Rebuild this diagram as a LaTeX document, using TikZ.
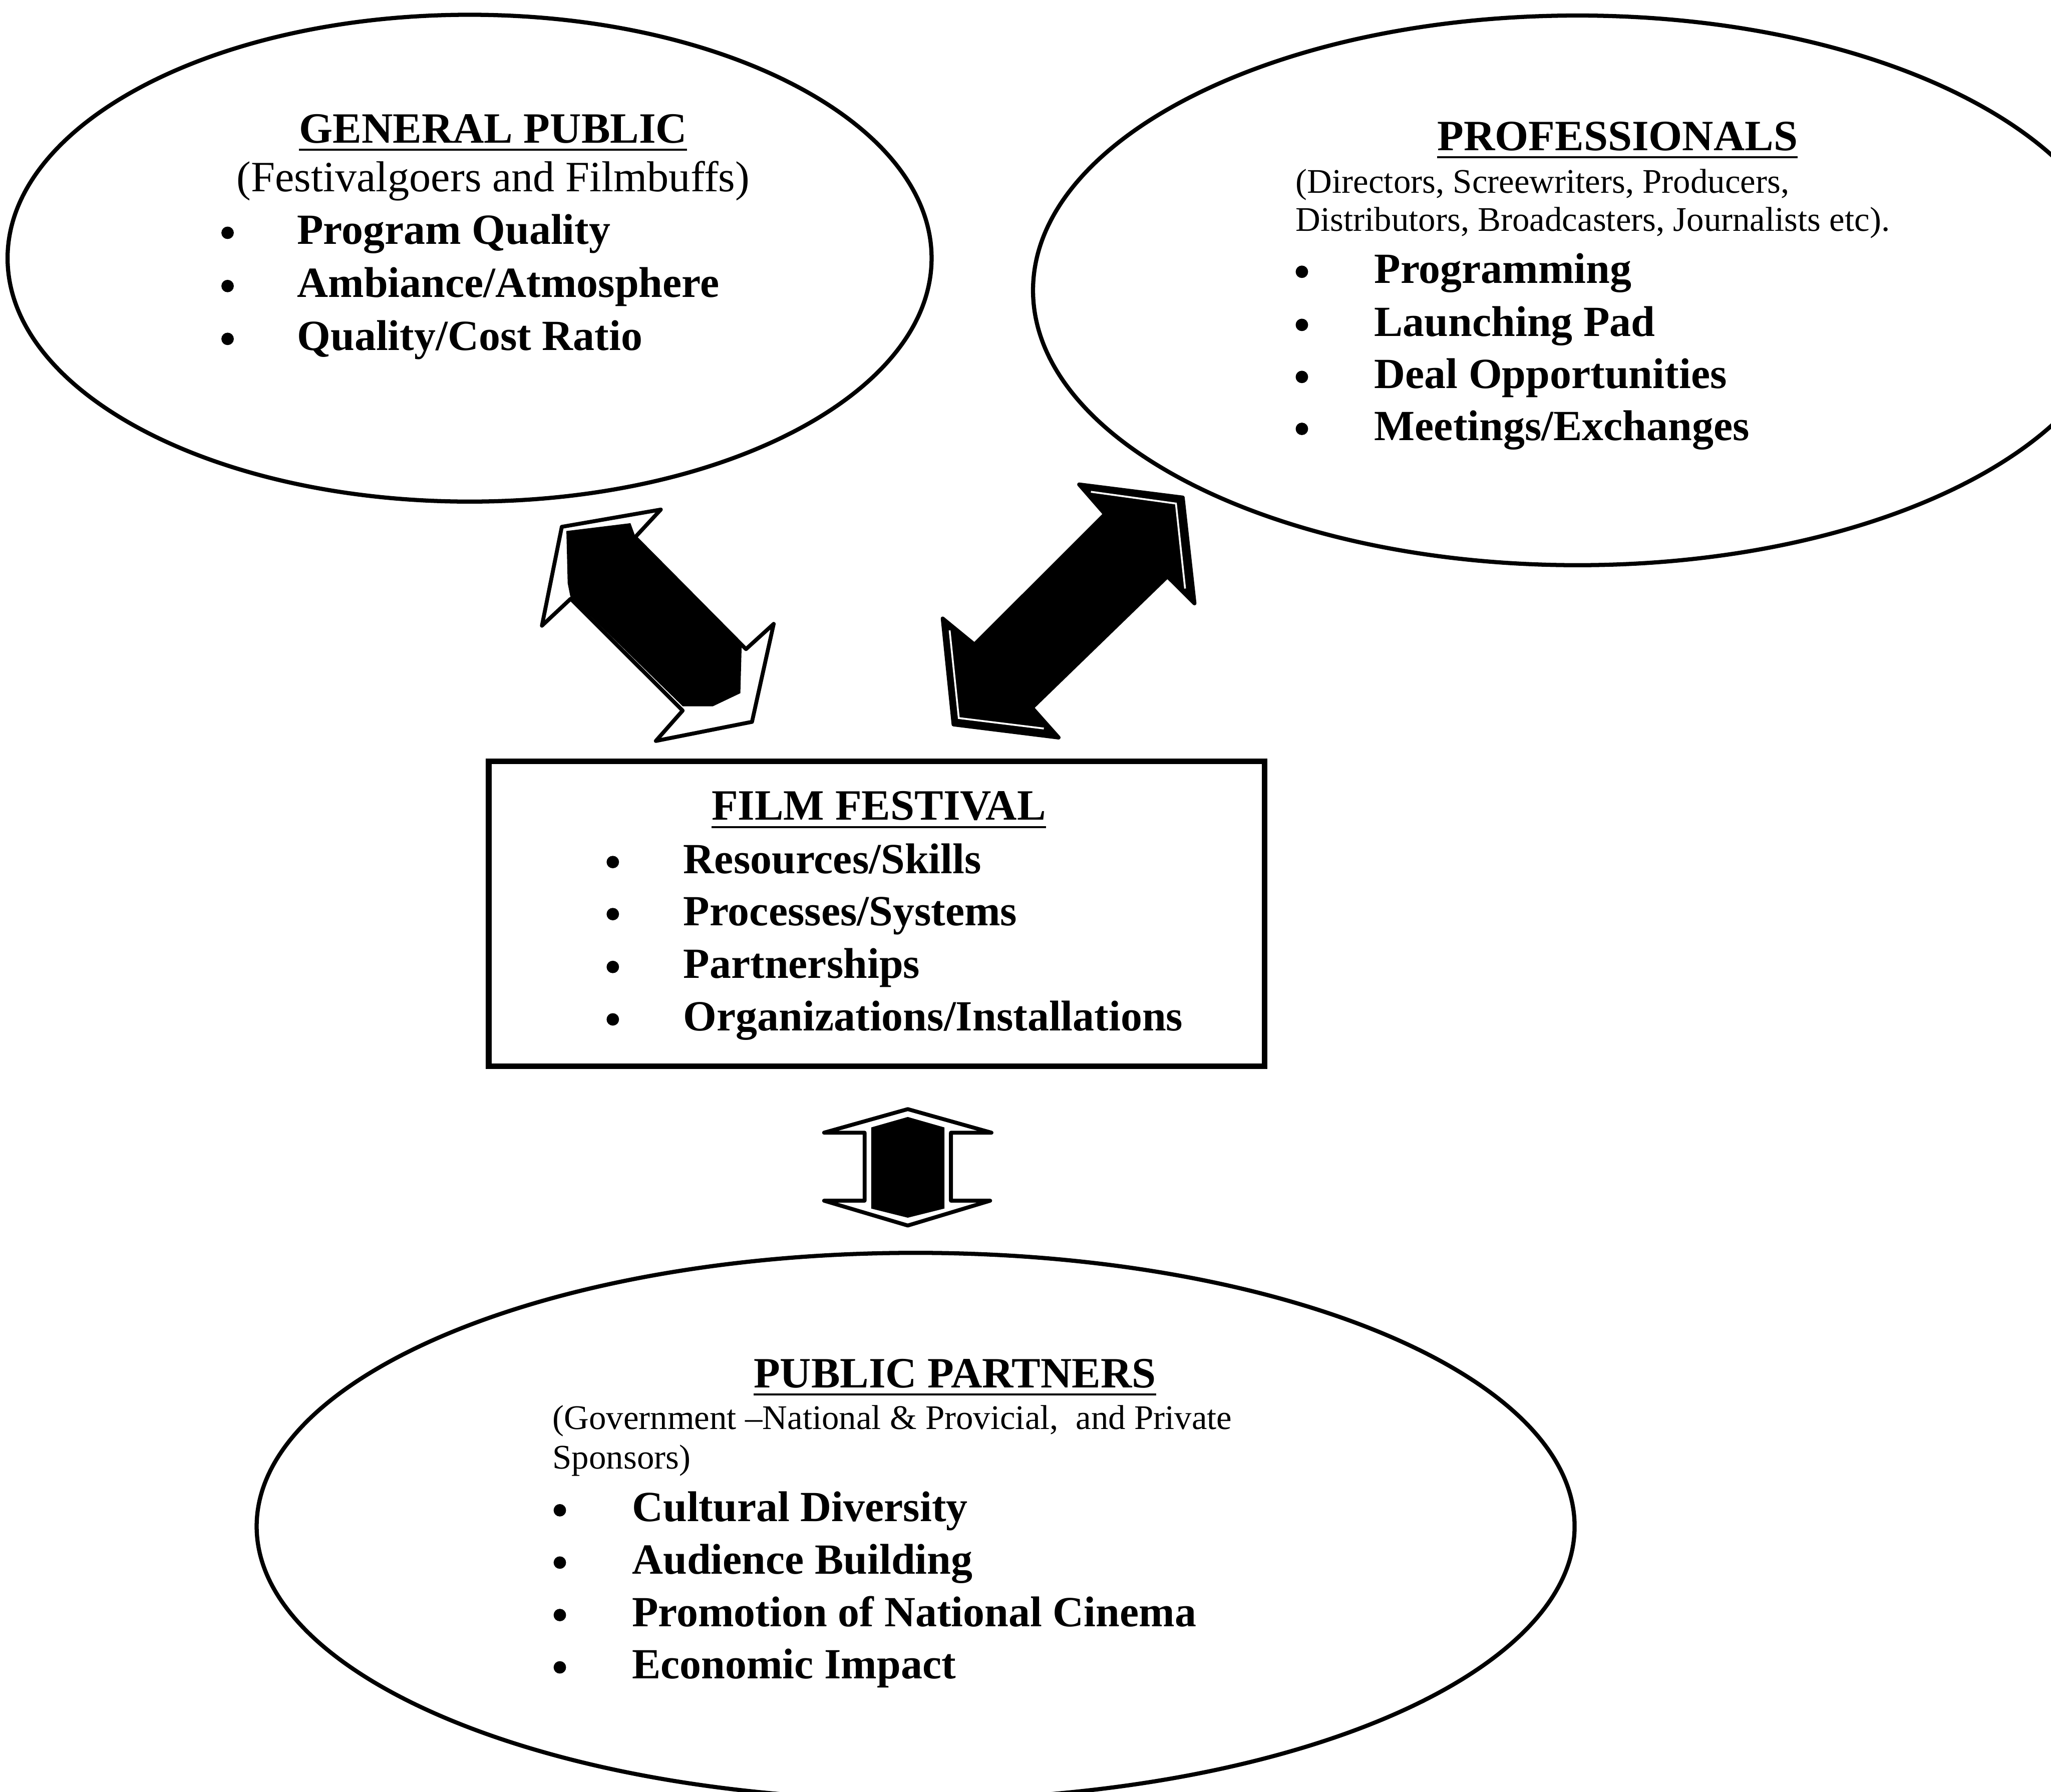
\documentclass[tikz,border=0pt]{standalone}
\usepackage{fontspec}
\setmainfont{Liberation Serif}
\usetikzlibrary{shapes.geometric}
\begin{document}
\begin{tikzpicture}[x=0.01cm, y=-0.01cm,
    bubble/.style={ellipse, draw, line width=0.9pt, inner sep=0pt},
    head/.style={anchor=base, inner sep=0pt, font=\fontsize{9.4}{11}\selectfont\bfseries},
    note/.style={anchor=base, inner sep=0pt, font=\fontsize{9.4}{11}\selectfont},
    sub/.style={anchor=base west, inner sep=0pt, font=\fontsize{7.5}{9}\selectfont},
    item/.style={anchor=base west, inner sep=0pt, font=\fontsize{9.35}{11}\selectfont\bfseries},
    dot/.style={circle, fill, inner sep=0pt, minimum size=0.095cm},
    arrowline/.style={draw=black, line width=0.85pt, line join=round}]
  \useasboundingbox (0,0) rectangle (1568,1370);
  \clip (0,0) rectangle (1568,1370);

  % General public
  \node[bubble, minimum width=7.06cm, minimum height=3.72cm] (gp) at (359,197.4) {};
  \node[head] (gphead) at (377,109.3) {\underline{GENERAL PUBLIC}};
  \node[note] (gpnote) at (377,146.4) {(Festivalgoers and Filmbuffs)};
  \node[dot] (gpd1) at (174,178) {};
  \node[item] (gpi1) at (226.5,186.6) {Program Quality};
  \node[dot] (gpd2) at (174,218.7) {};
  \node[item] (gpi2) at (226.5,227.3) {Ambiance/Atmosphere};
  \node[dot] (gpd3) at (174,259.1) {};
  \node[item] (gpi3) at (226.5,267.7) {Quality/Cost Ratio};

  % Professionals
  \node[bubble, minimum width=8.32cm, minimum height=4.20cm] (pro) at (1206,222) {};
  \node[head] (prohead) at (1236.6,115) {\underline{PROFESSIONALS}};
  \node[sub] (pronote1) at (990,147.6) {(Directors, Screewriters, Producers,};
  \node[sub] (pronote2) at (990,176.7) {Distributors, Broadcasters, Journalists etc).};
  \node[dot] (prod1) at (995.3,207.8) {};
  \node[item] (proi1) at (1050,216.4) {Programming};
  \node[dot] (prod2) at (995.3,248.4) {};
  \node[item] (proi2) at (1050,257) {Launching Pad};
  \node[dot] (prod3) at (995.3,288.2) {};
  \node[item] (proi3) at (1050,296.8) {Deal Opportunities};
  \node[dot] (prod4) at (995.3,327.9) {};
  \node[item] (proi4) at (1050,336.5) {Meetings/Exchanges};

  % Film festival
  \node[draw, line width=1.2pt, minimum width=5.93cm, minimum height=2.33cm, inner sep=0pt] (ff) at (670.3,698.6) {};
  \node[head] (ffhead) at (671.8,627) {\underline{FILM FESTIVAL}};
  \node[dot] (ffd1) at (468.5,659.1) {};
  \node[item] (ffi1) at (521.8,667.7) {Resources/Skills};
  \node[dot] (ffd2) at (468.5,698.9) {};
  \node[item] (ffi2) at (521.8,707.5) {Processes/Systems};
  \node[dot] (ffd3) at (468.5,739.3) {};
  \node[item] (ffi3) at (521.8,747.9) {Partnerships};
  \node[dot] (ffd4) at (468.5,779.4) {};
  \node[item] (ffi4) at (521.8,788) {Organizations/Installations};

  % Public partners
  \node[bubble, minimum width=10.07cm, minimum height=4.18cm] (pp) at (700,1167) {};
  \node[head] (pphead) at (730,1061) {\underline{PUBLIC PARTNERS}};
  \node[sub] (ppnote1) at (421.8,1092.6) {(Government --National \& Provicial,\ \ and Private};
  \node[sub] (ppnote2) at (421.8,1123) {Sponsors)};
  \node[dot] (ppd1) at (428,1154.7) {};
  \node[item] (ppi1) at (482.5,1163.3) {Cultural Diversity};
  \node[dot] (ppd2) at (428,1194.7) {};
  \node[item] (ppi2) at (482.5,1203.3) {Audience Building};
  \node[dot] (ppd3) at (428,1234.8) {};
  \node[item] (ppi3) at (482.5,1243.4) {Promotion of National Cinema};
  \node[dot] (ppd4) at (428,1274.8) {};
  \node[item] (ppi4) at (482.5,1283.4) {Economic Impact};

  % Block arrows
  \draw[arrowline, fill=white] (429.5,402.8) -- (505.2,389.6) -- (485.5,410.8) -- (570.3,496.3) -- (591.5,477.0) -- (574.9,551.9) -- (501.4,566.5) -- (521.9,543.3) -- (436.3,457.8) -- (414.3,478.4) -- cycle;
  \fill (433,406) -- (482,400) -- (486,411) -- (567,494) -- (566,530) -- (545,540) -- (522,540) -- (436,456) -- (434,446) -- cycle;

  \draw[arrowline, fill=black] (904.2,380.4) -- (913.2,461.3) -- (892.5,440.7) -- (789.0,541.1) -- (809.3,563.9) -- (729.0,553.9) -- (720.7,472.9) -- (745.0,492.8) -- (844.8,393.1) -- (825.0,370.4) -- cycle;
  \draw[white, line width=0.4pt] (834,376) -- (899,385) -- (906,450);
  \draw[white, line width=0.4pt] (726,482) -- (733,549) -- (798,557);

  \draw[arrowline, fill=white] (694,848) -- (758,866) -- (727,866) -- (727,918) -- (757,918) -- (694,937) -- (630,918) -- (661,918) -- (661,866) -- (630,866) -- cycle;
  \fill (694,854) -- (722,862) -- (722,924) -- (694,931) -- (666,924) -- (666,862) -- cycle;
\end{tikzpicture}
\end{document}
